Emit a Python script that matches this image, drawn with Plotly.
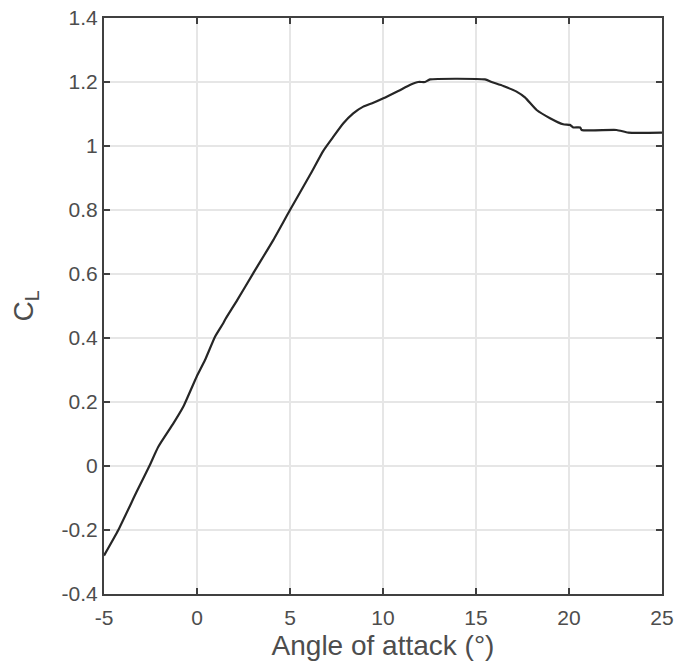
import plotly.graph_objects as go

alpha = [-5.0, -4.23, -3.24, -2.56, -2.08, -1.27, -0.74, -0.02, 0.43, 0.97, 1.41, 1.54,
         2.17, 3.02, 4.10, 5.0, 6.08, 6.79, 7.33, 7.87, 8.40, 8.94, 9.48, 10.02, 10.82,
         11.5, 11.9, 12.26, 12.53, 15.48, 15.84, 16.47, 17.18, 17.63, 18.26, 18.98, 19.69,
         20.05, 20.23, 20.6, 20.68, 22.56, 23.19, 25.0]
cl = [-0.28, -0.20, -0.08, 0.0, 0.06, 0.133, 0.185, 0.279, 0.331, 0.404, 0.446, 0.46,
      0.519, 0.602, 0.706, 0.80, 0.91, 0.985, 1.029, 1.071, 1.102, 1.123, 1.135, 1.149, 1.172,
      1.192, 1.20, 1.20, 1.208, 1.208, 1.20, 1.1875, 1.17, 1.152, 1.1125, 1.087, 1.068,
      1.066, 1.058, 1.058, 1.05, 1.05, 1.042, 1.042]

x_ticks = [-5, 0, 5, 10, 15, 20, 25]
y_ticks = [-0.4, -0.2, 0, 0.2, 0.4, 0.6, 0.8, 1, 1.2, 1.4]
y_labels = ["-0.4", "-0.2", "0", "0.2", "0.4", "0.6", "0.8", "1", "1.2", "1.4"]

FONT = "Liberation Sans, Arial, sans-serif"
TXT = "#4d4d4d"

fig = go.Figure()
fig.add_trace(go.Scatter(x=alpha, y=cl, mode="lines",
                         line=dict(color="#262626", width=2.2, shape="spline", smoothing=0.5),
                         showlegend=False))

fig.update_xaxes(range=[-5, 25], tickvals=x_ticks, ticktext=[str(v) for v in x_ticks],
                 showline=True, linecolor="#404040", linewidth=2, mirror="ticks",
                 ticks="inside", ticklen=6, tickwidth=2, tickcolor="#404040",
                 showgrid=True, gridcolor="#e6e6e6", gridwidth=2, zeroline=False,
                 ticklabelstandoff=4, automargin=False,
                 tickfont=dict(family=FONT, size=21, color=TXT),
                 title=dict(text="Angle of attack (°)", standoff=7,
                            font=dict(family=FONT, size=28, color=TXT)))
fig.update_yaxes(range=[-0.4, 1.4], tickvals=y_ticks, ticktext=y_labels,
                 showline=True, linecolor="#404040", linewidth=2, mirror="ticks",
                 ticks="inside", ticklen=6, tickwidth=2, tickcolor="#404040",
                 showgrid=True, gridcolor="#e6e6e6", gridwidth=2, zeroline=False,
                 automargin=False,
                 tickfont=dict(family=FONT, size=21, color=TXT),
                 title=dict(text="C<sub>L</sub>", standoff=20,
                            font=dict(family=FONT, size=28, color=TXT)))

fig.update_layout(width=686, height=664, margin=dict(l=104, r=24, t=18, b=70, autoexpand=False),
                  plot_bgcolor="white", paper_bgcolor="white",
                  font=dict(family=FONT, size=21, color=TXT))

fig.write_html("out.html", config={"displayModeBar": False},
               post_script="document.body.style.margin='0';document.body.style.overflow='hidden';")
